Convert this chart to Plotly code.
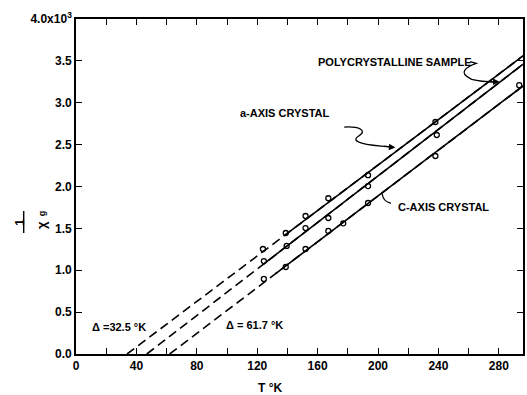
import numpy as np
import plotly.graph_objects as go

# ---- data (T in K, 1/chi_g in units of 10^3) ----
a_T = [123.8, 138.9, 152.0, 167.1, 193.4, 238.0]
a_v = [1.254, 1.445, 1.648, 1.860, 2.135, 2.770]

p_T = [124.4, 139.5, 152.0, 167.1, 193.4, 238.9]
p_v = [1.110, 1.290, 1.504, 1.624, 2.005, 2.615]

c_T = [124.4, 138.9, 152.0, 167.1, 177.0, 193.4, 238.0, 293.5]
c_v = [0.896, 1.039, 1.254, 1.469, 1.560, 1.803, 2.364, 3.210]

# fitted straight lines: x-axis intercept, value at right edge, start of solid part
line_names = ["a-axis", "polycrystalline", "c-axis"]
line_theta = [33.8, 46.9, 62.0]
line_end_v = [3.56, 3.46, 3.20]
line_solid_from = [139.0, 124.0, 132.0]

X_MAX = 296.0
x_ticks = [0, 40, 80, 120, 160, 200, 240, 280]
y_ticks = [0.0, 0.5, 1.0, 1.5, 2.0, 2.5, 3.0, 3.5, 4.0]
y_labels = ["0.0", "0.5", "1.0", "1.5", "2.0", "2.5", "3.0", "3.5", "4.0x10<sup>3</sup>"]

FONT = "Liberation Sans"
fig = go.Figure()

for th, ev, sf in zip(line_theta, line_end_v, line_solid_from):
    xs = [th, X_MAX]
    ys = [0.0, ev]
    fig.add_trace(go.Scatter(x=xs, y=ys, mode="lines",
                             line=dict(color="black", width=1.6, dash="9px,5px"),
                             hoverinfo="skip", showlegend=False))
    sv = float(np.interp(sf, xs, ys))
    fig.add_trace(go.Scatter(x=[sf, X_MAX], y=[sv, ev], mode="lines",
                             line=dict(color="black", width=1.6),
                             hoverinfo="skip", showlegend=False))

for T, v in [(a_T, a_v), (p_T, p_v), (c_T, c_v)]:
    fig.add_trace(go.Scatter(x=T, y=v, mode="markers",
                             marker=dict(symbol="circle-open", size=5,
                                         color="black", line=dict(width=1.3)),
                             showlegend=False))

def txt(x, y, s, size=11):
    fig.add_annotation(x=x, y=y, text=s, showarrow=False, xref="x", yref="y",
                       font=dict(family=FONT, size=size, color="black", weight="bold"))

# text labels
txt(211.4, 3.49, "POLYCRYSTALLINE SAMPLE")
txt(138.2, 2.88, "a-AXIS CRYSTAL")
txt(243.3, 1.75, "C-AXIS CRYSTAL")
txt(28.5, 0.325, "Δ =32.5 °K")
txt(118.5, 0.345, "Δ = 61.7 °K")

# squiggly leaders
fig.add_shape(type="path", xref="x", yref="y",
              path="M 177.6 2.71 C 186 2.72, 194 2.68, 187 2.60 C 181 2.53, 192 2.49, 208 2.475",
              line=dict(color="black", width=1.3))
fig.add_annotation(x=211.5, y=2.465, ax=203, ay=2.48, xref="x", yref="y", axref="x", ayref="y",
                   showarrow=True, arrowhead=2, arrowsize=1, arrowwidth=1.3, arrowcolor="black", text="")
fig.add_shape(type="path", xref="x", yref="y",
              path="M 261 3.49 L 265 3.47 C 259 3.43, 252 3.36, 262 3.28 C 268 3.25, 273 3.25, 278 3.25",
              line=dict(color="black", width=1.3))
fig.add_annotation(x=280.5, y=3.25, ax=273, ay=3.25, xref="x", yref="y", axref="x", ayref="y",
                   showarrow=True, arrowhead=2, arrowsize=1, arrowwidth=1.3, arrowcolor="black", text="")
fig.add_shape(type="path", xref="x", yref="y",
              path="M 208.5 1.80 C 204 1.82, 203 1.86, 202.8 1.91",
              line=dict(color="black", width=1.3))

# y-axis title: fraction 1 / chi_g, rotated
fig.add_annotation(xref="paper", yref="paper", x=-0.146, y=0.394, text="1",
                   textangle=-90, showarrow=False,
                   font=dict(family=FONT, size=12, color="black", weight="bold"))
fig.add_shape(type="line", xref="paper", yref="paper",
              x0=-0.117, x1=-0.117, y0=0.361, y1=0.427,
              line=dict(color="black", width=1.4))
fig.add_annotation(xref="paper", yref="paper", x=-0.099, y=0.386, text="χ",
                   textangle=-90, showarrow=False,
                   font=dict(family=FONT, size=13, color="black", weight="bold"))
fig.add_annotation(xref="paper", yref="paper", x=-0.092, y=0.420, text="g",
                   textangle=-90, showarrow=False,
                   font=dict(family=FONT, size=9, color="black", weight="bold"))
# x-axis title
fig.add_annotation(xref="paper", yref="paper", x=0.433, y=-0.10, text="T °K",
                   showarrow=False, yanchor="middle",
                   font=dict(family=FONT, size=12, color="black", weight="bold"))

axis_common = dict(showgrid=False, zeroline=False, showline=True, linecolor="black",
                   linewidth=1.6, mirror="ticks", ticks="inside", ticklen=6,
                   tickwidth=1.4, tickcolor="black",
                   tickfont=dict(family=FONT, size=12, color="black", weight="bold"))

fig.update_xaxes(range=[0, X_MAX], tickmode="array",
                 tickvals=list(range(0, 300, 20)),
                 ticktext=[str(t) if t in x_ticks else "" for t in range(0, 300, 20)],
                 **axis_common)
fig.update_yaxes(range=[0, 4.0], tickmode="array", tickvals=y_ticks, ticktext=y_labels,
                 **axis_common)

fig.update_layout(width=527, height=395, margin=dict(l=76, r=2, t=19, b=41),
                  plot_bgcolor="white", paper_bgcolor="white", showlegend=False)

fig.write_html("out.html")
